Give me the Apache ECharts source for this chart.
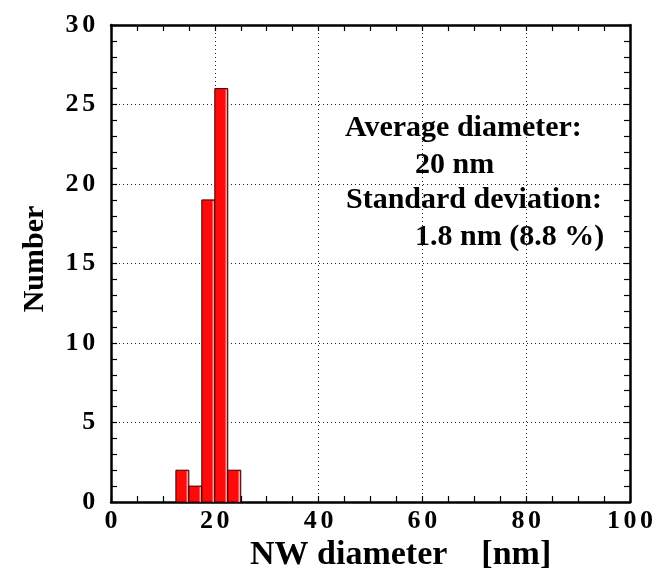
<!DOCTYPE html>
<html>
<head>
<meta charset="utf-8">
<script src="https://cdn.jsdelivr.net/npm/echarts@6/dist/echarts.min.js"></script>
<style>
html,body{margin:0;padding:0;background:#fff;}
#chart{width:658px;height:579px;}
</style>
</head>
<body>
<div id="chart"></div>
<script>
// Histogram data (NW diameter bins in nm)
var binStarts = [12.5, 15, 17.5, 20, 22.5];
var binWidth = 2.5;
var counts = [2, 1, 19, 26, 2];
var xTicks = [0, 20, 40, 60, 80, 100];
var yTicks = [0, 5, 10, 15, 20, 25, 30];
var annotationLines = ['Average diameter:', '20 nm', 'Standard deviation:', '1.8 nm (8.8 %)'];

var FONT = '"Liberation Serif", "Times New Roman", serif';
function spaced(v) { return String(v).split('').map(function (c) { return '{d|' + c + '}'; }).join(''); }
var digitRich = { d: { fontFamily: FONT, fontWeight: 'bold', fontSize: 26, color: '#000', padding: [0, 1.8, 0, 1.8] } };

var data = binStarts.map(function (s, i) { return [s, s + binWidth, counts[i]]; });

var chart = echarts.init(document.getElementById('chart'));

var axisCommon = {
  axisLine: { show: true, onZero: false, lineStyle: { color: '#000', width: 2.5 } },
  axisTick: { show: true, inside: true, length: 6, lineStyle: { color: '#000', width: 1.2 } },
  minorTick: { show: true, length: 6, lineStyle: { color: '#000', width: 1.2 } }
};

chart.setOption({
  animation: false,
  backgroundColor: '#fff',
  grid: { left: 111, right: 28, top: 25, bottom: 77, containLabel: false },
  xAxis: [
    Object.assign({}, axisCommon, {
      type: 'value', min: xTicks[0], max: xTicks[xTicks.length - 1], interval: 20, position: 'bottom',
      minorTick: Object.assign({}, axisCommon.minorTick, { splitNumber: 4 }),
      axisLabel: { margin: 6, color: '#000', fontFamily: FONT, fontWeight: 'bold', fontSize: 26,
        formatter: function (v) { return spaced(v); }, rich: digitRich },
      splitLine: { show: true, lineStyle: { color: '#222', width: 1, type: [1, 3] } }
    }),
    Object.assign({}, axisCommon, {
      type: 'value', min: xTicks[0], max: xTicks[xTicks.length - 1], interval: 20, position: 'top',
      minorTick: Object.assign({}, axisCommon.minorTick, { splitNumber: 4 }),
      axisLabel: { show: false }, splitLine: { show: false }
    })
  ],
  yAxis: [
    Object.assign({}, axisCommon, {
      type: 'value', min: yTicks[0], max: yTicks[yTicks.length - 1], interval: 5, position: 'left',
      minorTick: Object.assign({}, axisCommon.minorTick, { splitNumber: 5 }),
      axisLabel: { margin: 14, color: '#000', fontFamily: FONT, fontWeight: 'bold', fontSize: 26,
        formatter: function (v) { return spaced(v); }, rich: digitRich },
      splitLine: { show: true, lineStyle: { color: '#222', width: 1, type: [1, 3] } }
    }),
    Object.assign({}, axisCommon, {
      type: 'value', min: yTicks[0], max: yTicks[yTicks.length - 1], interval: 5, position: 'right',
      minorTick: Object.assign({}, axisCommon.minorTick, { splitNumber: 5 }),
      axisLabel: { show: false }, splitLine: { show: false }
    })
  ],
  series: [{
    type: 'custom',
    xAxisIndex: 0, yAxisIndex: 0,
    data: data,
    encode: { x: [0, 1], y: 2 },
    renderItem: function (params, api) {
      var p0 = api.coord([api.value(0), api.value(2)]);
      var p1 = api.coord([api.value(1), 0]);
      var x = p0[0], y = p0[1], w = p1[0] - p0[0], h = p1[1] - p0[1];
      return {
        type: 'group',
        children: [
          { type: 'rect', shape: { x: x, y: y, width: w, height: h },
            style: { fill: '#ff0a0a', stroke: '#3a0000', lineWidth: 1 } },
          { type: 'line', shape: { x1: x + w - 1.5, y1: y + 1, x2: x + w - 1.5, y2: y + h },
            style: { stroke: '#f4a0a0', lineWidth: 1.5 } }
        ]
      };
    }
  }],
  graphic: [
    { type: 'text', left: 345, top: 113, style: { text: annotationLines[0], font: 'bold 30px ' + FONT, fill: '#000' } },
    { type: 'text', left: 415, top: 150, style: { text: annotationLines[1], font: 'bold 30px ' + FONT, fill: '#000' } },
    { type: 'text', left: 346, top: 185, style: { text: annotationLines[2], font: 'bold 30px ' + FONT, fill: '#000' } },
    { type: 'text', left: 415, top: 222, style: { text: annotationLines[3], font: 'bold 30px ' + FONT, fill: '#000' } },
    { type: 'text', left: 250, top: 538, style: { text: 'NW diameter    [nm]', font: 'bold 34px ' + FONT, fill: '#000' } },
    { type: 'text', x: 35, y: 259, rotation: Math.PI / 2,
      style: { text: 'Number', font: 'bold 30px ' + FONT, fill: '#000', align: 'center', verticalAlign: 'middle' } }
  ]
});
</script>
</body>
</html>
